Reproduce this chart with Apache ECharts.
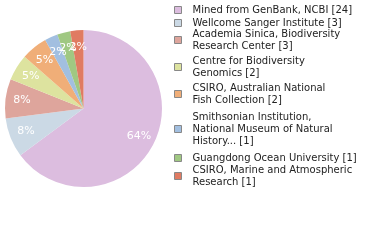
<!DOCTYPE html>
<html><head><meta charset="utf-8">
<script src="https://cdn.jsdelivr.net/npm/echarts@6/dist/echarts.min.js"></script>
<style>html,body{margin:0;padding:0;background:#fff}#c{width:380px;height:240px}</style>
</head><body><div id="c"></div>
<script>
var names = [
  "Mined from GenBank, NCBI [24]",
  "Wellcome Sanger Institute [3]",
  "Academia Sinica, Biodiversity\nResearch Center [3]",
  "Centre for Biodiversity\nGenomics [2]",
  "CSIRO, Australian National\nFish Collection [2]",
  "Smithsonian Institution,\nNational Museum of Natural\nHistory... [1]",
  "Guangdong Ocean University [1]",
  "CSIRO, Marine and Atmospheric\nResearch [1]"
];
var values = [24, 3, 3, 2, 2, 1, 1, 1];
var colors = ["#dcbddf", "#cbd9e5", "#dea59c", "#dde39f", "#f0ae78", "#a2bfe0", "#a0c882", "#e07b62"];
var legendCenters = [10, 23, 40, 67, 94, 129, 158, 176];

var total = values.reduce(function(a, b){ return a + b; }, 0);
var data = names.map(function(n, i){ return {name: n, value: values[i], itemStyle: {color: colors[i]}}; });
var font = "DejaVu Sans";
var legends = names.map(function(n, i){
  var lines = n.split("\n").length;
  var h = lines * 12;
  return {
    data: [n], left: 174, top: legendCenters[i] - h / 2, padding: 0,
    itemWidth: 7, itemHeight: 7, icon: 'rect', selectedMode: false,
    itemStyle: {borderColor: '#888', borderWidth: 1},
    textStyle: {fontFamily: font, fontSize: 10, color: '#222', lineHeight: 12, padding: [0, 0, 0, 6]}
  };
});
var chart = echarts.init(document.getElementById('c'), null, {renderer: 'canvas'});
chart.setOption({
  animation: false,
  legend: legends,
  series: [{
    type: 'pie', center: [83.5, 108.5], radius: [0, 78.5], startAngle: 90, clockwise: true,
    silent: true, data: data, label: {show: false}, labelLine: {show: false},
    itemStyle: {borderWidth: 0}
  }, {
    type: 'pie', center: [83.5, 108.5], radius: [0, 118], startAngle: 90, clockwise: true,
    silent: true, legendHoverLink: false, avoidLabelOverlap: false,
    labelLayout: {hideOverlap: false},
    data: names.map(function(n, i){ return {name: n + ' ', value: values[i]}; }),
    itemStyle: {color: 'rgba(0,0,0,0)'},
    label: {show: true, position: 'inner', color: '#fff', fontFamily: font, fontSize: 11,
      formatter: function(p){ return Math.floor(p.value / total * 100) + '%'; }},
    labelLine: {show: false}
  }]
});
</script></body></html>
